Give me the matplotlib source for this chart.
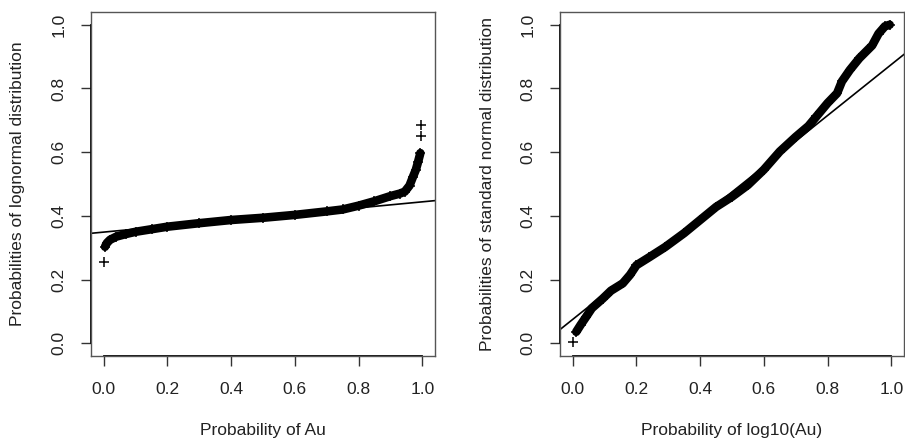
import numpy as np
import matplotlib.pyplot as plt

plt.rcParams['font.family'] = ['Liberation Sans', 'DejaVu Sans']

# left panel: P-P plot of Au against lognormal
left_p = [0.004, 0.01, 0.02, 0.04, 0.07, 0.1, 0.15, 0.2, 0.3, 0.4, 0.5, 0.6,
          0.7, 0.75, 0.8, 0.85, 0.9, 0.93, 0.945, 0.96, 0.971, 0.98, 0.987, 0.994]
left_q = [0.303, 0.315, 0.325, 0.335, 0.343, 0.350, 0.358, 0.366, 0.377, 0.387,
          0.394, 0.403, 0.414, 0.420, 0.432, 0.446, 0.462, 0.470, 0.476, 0.495,
          0.523, 0.545, 0.570, 0.597]
left_out_p = [0.001, 0.997, 0.997]
left_out_q = [0.256, 0.651, 0.686]
left_line = (0.349, 0.095)  # intercept, slope

# right panel: P-P plot of log10(Au) against standard normal
right_p = [0.011, 0.025, 0.042, 0.06, 0.094, 0.12, 0.157, 0.18, 0.2, 0.24, 0.29,
           0.35, 0.4, 0.45, 0.5, 0.55, 0.6, 0.65, 0.7, 0.74, 0.765, 0.8, 0.83,
           0.845, 0.87, 0.9, 0.94, 0.96, 0.98, 0.995]
right_q = [0.036, 0.058, 0.083, 0.11, 0.14, 0.165, 0.188, 0.215, 0.245, 0.27,
           0.302, 0.346, 0.387, 0.428, 0.46, 0.497, 0.545, 0.602, 0.648, 0.682,
           0.712, 0.754, 0.785, 0.822, 0.858, 0.895, 0.935, 0.972, 0.995, 1.0]
right_out_p = [0.0]
right_out_q = [0.004]
right_line = (0.075, 0.80)

ticks = [0.0, 0.2, 0.4, 0.6, 0.8, 1.0]
tick_labels = ['0.0', '0.2', '0.4', '0.6', '0.8', '1.0']

W, H = 905, 441
fig = plt.figure(figsize=(W / 100, H / 100), dpi=100)

panels = [
    (91, left_p, left_q, left_out_p, left_out_q, left_line,
     'Probability of Au', 'Probabilities of lognormal distribution'),
    (560, right_p, right_q, right_out_p, right_out_q, right_line,
     'Probability of log10(Au)', 'Probabilities of standard normal distribution'),
]

for x0, p, q, op, oq, (b, m), xl, yl in panels:
    ax = fig.add_axes([x0 / W, (H - 356) / H, 344 / W, 344 / H])
    ax.set_xlim(-0.04, 1.04)
    ax.set_ylim(-0.04, 1.04)

    ax.plot(p, q, color='black', lw=6.2, solid_capstyle='round',
            solid_joinstyle='round')
    ax.plot(p, q, ls='none', marker='+', ms=7, mew=1.1, color='black')
    ax.plot(op, oq, ls='none', marker='+', ms=7, mew=1.1, color='black')
    ax.axline((0, b), slope=m, color='black', lw=1.2)

    for s in ax.spines.values():
        s.set_color('#555555')
        s.set_linewidth(1.0)
    # R style axis lines spanning first to last tick
    ax.plot([0, 1], [0, 0], transform=ax.get_xaxis_transform(),
            color='black', lw=1.3, clip_on=False)
    ax.plot([0, 0], [0, 1], transform=ax.get_yaxis_transform(),
            color='black', lw=1.3, clip_on=False)

    ax.set_xticks(ticks)
    ax.set_xticklabels(tick_labels)
    ax.set_yticks(ticks)
    ax.set_yticklabels(tick_labels, rotation=90, va='center')
    ax.tick_params(direction='out', length=7.5, width=1.0, color='#333333',
                   labelsize=12.5, labelcolor='#222222')
    ax.tick_params(axis='x', pad=11)
    ax.tick_params(axis='y', pad=10)

    ax.set_xlabel(xl, fontsize=12.5, color='#222222', va='center')
    ax.xaxis.set_label_coords(0.5, -(430 - 356) / 344)
    ax.set_ylabel(yl, fontsize=12.5, color='#222222', va='center')
    ax.yaxis.set_label_coords(-73 / 344, 0.5)

fig.savefig('out.png', dpi=100)
